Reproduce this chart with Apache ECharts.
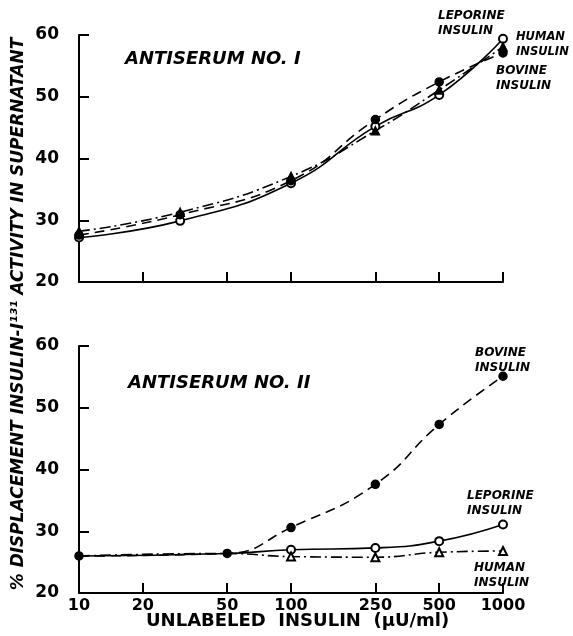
<!DOCTYPE html>
<html><head><meta charset="utf-8">
<script src="https://cdn.jsdelivr.net/npm/echarts@6/dist/echarts.min.js"></script>
<style>html,body{margin:0;padding:0;background:#fff}#c{width:573px;height:636px}</style>
</head><body><div id="c"></div>
<script>
const xTicks = [10, 20, 50, 100, 250, 500, 1000];
const yTicks = [20, 30, 40, 50, 60];
const xTop = [10, 30, 100, 250, 500, 1000];
const topLeporine = [27.2, 29.9, 36.0, 45.2, 50.3, 59.4];
const topBovine = [27.6, 30.9, 36.4, 46.3, 52.4, 57.1];
const topHuman = [28.2, 31.3, 37.1, 44.5, 51.1, 58.1];
const xBottom = [10, 50, 100, 250, 500, 1000];
const botBovine = [26.0, 26.4, 30.6, 37.6, 47.3, 55.1];
const botLeporine = [26.0, 26.4, 27.0, 27.3, 28.4, 31.1];
const botHuman = [26.0, 26.4, 25.9, 25.8, 26.6, 26.8];

const FONT = 'DejaVu Sans';
const chart = echarts.init(document.getElementById('c'));

function pairs(xs, ys, hideFirst) {
  return xs.map((x, i) => {
    const d = { value: [x, ys[i]] };
    if (hideFirst && i < hideFirst) d.symbol = 'none';
    return d;
  });
}
function xAx(idx, showLabels) {
  return {
    type: 'log', logBase: 10, min: 10, max: 1000, gridIndex: idx,
    axisLine: { show: true, lineStyle: { color: '#000', width: 2 } },
    axisTick: { show: true, inside: true, length: 10, customValues: xTicks, lineStyle: { color: '#000', width: 2 } },
    axisLabel: { show: showLabels, customValues: xTicks, formatter: v => String(Math.round(v)), color: '#000', fontFamily: FONT, fontWeight: 'bold', fontSize: 16, margin: 5 },
    minorTick: { show: false }, splitLine: { show: false }
  };
}
function yAx(idx) {
  return {
    type: 'value', min: 20, max: 60, interval: 10, gridIndex: idx,
    axisLine: { show: true, lineStyle: { color: '#000', width: 2 } },
    axisTick: { show: true, inside: true, length: 10, lineStyle: { color: '#000', width: 2 } },
    axisLabel: { color: '#000', fontFamily: FONT, fontWeight: 'bold', fontSize: 17, margin: 20 },
    splitLine: { show: false }
  };
}
const solid = { color: '#000', width: 1.6, type: 'solid' };
const dashed = { color: '#000', width: 1.6, type: [10, 6] };
const dashdot = { color: '#000', width: 1.6, type: [11, 4, 2, 4] };
function ser(name, idx, xs, ys, line, symbol, hide) {
  return {
    name, type: 'line', xAxisIndex: idx, yAxisIndex: idx, smooth: 0.5,
    data: pairs(xs, ys, hide), lineStyle: line, symbol: symbol, symbolSize: 8,
    itemStyle: { color: '#000', borderColor: '#000', borderWidth: 1.5 },
    emphasis: { disabled: true }, z: 3
  };
}
const tStyle = (size) => ({ fill: '#000', font: 'italic bold ' + size + 'px "' + FONT + '"' });
function label(x, y, text, size, align) {
  return { type: 'text', left: x, top: y, style: Object.assign({ text, textAlign: align || 'left', lineHeight: size + 3 }, tStyle(size)) };
}

chart.setOption({
  animation: false,
  grid: [
    { left: 79, right: 70, top: 35, height: 247 },
    { left: 79, right: 70, top: 346, height: 247 }
  ],
  xAxis: [xAx(0, false), xAx(1, true)],
  yAxis: [yAx(0), yAx(1)],
  series: [
    ser('Leporine I', 0, xTop, topLeporine, solid, 'emptyCircle'),
    ser('Bovine I', 0, xTop, topBovine, dashed, 'circle'),
    ser('Human I', 0, xTop, topHuman, dashdot, 'triangle'),
    ser('Bovine II', 1, xBottom, botBovine, dashed, 'circle'),
    ser('Leporine II', 1, xBottom, botLeporine, solid, 'emptyCircle', 2),
    ser('Human II', 1, xBottom, botHuman, dashdot, 'emptyTriangle', 2)
  ],
  graphic: [
    { type: 'text', x: 19, y: 314, rotation: Math.PI / 2,
      style: Object.assign({ text: '% DISPLACEMENT INSULIN-I\u00B9\u00B3\u00B9 ACTIVITY IN SUPERNATANT', textAlign: 'center', textVerticalAlign: 'middle' }, tStyle(17)) },
    { type: 'text', left: 146, top: 612,
      style: { text: 'UNLABELED  INSULIN  (\u03BCU/ml)', fill: '#000', font: 'bold 18px "' + FONT + '"' } },
    label(125, 49, 'ANTISERUM NO. I', 18),
    label(128, 373, 'ANTISERUM NO. II', 18),
    label(438, 8, 'LEPORINE\nINSULIN', 12),
    label(516, 30, 'HUMAN\nINSULIN', 11.5),
    label(496, 63, 'BOVINE\nINSULIN', 12),
    label(475, 345, 'BOVINE\nINSULIN', 12),
    label(467, 488, 'LEPORINE\nINSULIN', 12),
    label(474, 560, 'HUMAN\nINSULIN', 12)
  ]
});
</script></body></html>
